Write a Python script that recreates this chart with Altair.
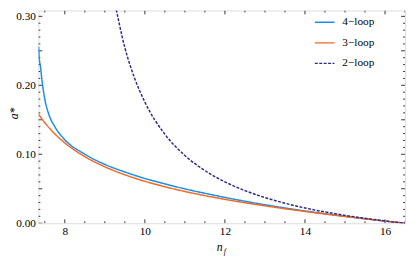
import altair as alt
import pandas as pd

series_names = ["4\u2212loop", "3\u2212loop", "2\u2212loop"]

nf_4 = [7.345, 7.36, 7.39, 7.43, 7.5, 7.6, 7.75, 8.0, 8.5, 9.0, 9.5, 10.0, 10.5, 11.0, 11.5, 12.0, 13.0, 14.0, 15.0, 16.0, 16.5]
a_4 = [0.256, 0.240, 0.228, 0.207, 0.180, 0.158, 0.140, 0.121, 0.100, 0.0853, 0.0743, 0.0649, 0.0570, 0.0498, 0.0434, 0.0374, 0.0268, 0.0178, 0.0100, 0.00317, 0.0]

nf_3 = [7.345, 7.5, 7.75, 8.0, 8.5, 9.0, 9.5, 10.0, 10.5, 11.0, 11.5, 12.0, 13.0, 14.0, 15.0, 16.0, 16.5]
a_3 = [0.158, 0.1458, 0.1296, 0.1165, 0.0966, 0.0818, 0.0702, 0.0608, 0.0529, 0.0460, 0.0400, 0.0346, 0.0252, 0.0171, 0.0098, 0.00316, 0.0]

nf_2 = [9.2, 9.5, 9.75, 10.0, 10.5, 11.0, 11.5, 12.0, 12.5, 13.0, 13.5, 14.0, 14.5, 15.0, 15.5, 16.0, 16.5]
a_2 = [0.335, 0.2546, 0.2093, 0.1757, 0.129, 0.0982, 0.0763, 0.060, 0.0473, 0.0372, 0.029, 0.0221, 0.0163, 0.01136, 0.00707, 0.00331, 0.0]

x_major = [8, 10, 12, 14, 16]
x_minor = [7.5, 8.5, 9, 9.5, 10.5, 11, 11.5, 12.5, 13, 13.5, 14.5, 15, 15.5, 16.5]
y_major = [0.0, 0.05, 0.10, 0.15, 0.20, 0.25, 0.30]
y_minor = [0.01, 0.02, 0.03, 0.04, 0.06, 0.07, 0.08, 0.09, 0.11, 0.12, 0.13, 0.14,
           0.16, 0.17, 0.18, 0.19, 0.21, 0.22, 0.23, 0.24, 0.26, 0.27, 0.28, 0.29]

colors = ["#1a8cf0", "#f5681e", "#2c2a8a"]

W, H = 374, 217
FONT = "Liberation Serif"

rows = []
for name, xs, ys in [(series_names[0], nf_4, a_4), (series_names[1], nf_3, a_3), (series_names[2], nf_2, a_2)]:
    for x, y in zip(xs, ys):
        rows.append({"nf": x, "a": y, "series": name})
df = pd.DataFrame(rows)

xscale = alt.Scale(domain=[7.34, 16.5], nice=False, zero=False)
yscale = alt.Scale(domain=[0, 0.3085], nice=False, zero=False)

lines = alt.Chart(df).mark_line(clip=True, strokeWidth=1.5, interpolate="monotone").encode(
    x=alt.X("nf:Q", scale=xscale,
            axis=alt.Axis(values=x_major, title=None, ticks=False, domain=False, grid=False,
                          labelFont=FONT, labelFontSize=11.5, labelColor="black", labelPadding=3)),
    y=alt.Y("a:Q", scale=yscale,
            axis=alt.Axis(values=y_major, format=".2f", title=None, ticks=False, domain=False, grid=False,
                          labelFont=FONT, labelFontSize=11.5, labelColor="black", labelPadding=3)),
    color=alt.Color("series:N", scale=alt.Scale(domain=series_names, range=colors),
                    legend=alt.Legend(title=None, orient="none", legendX=281, legendY=1,
                                      symbolType="stroke", symbolSize=400, symbolStrokeWidth=1.3,
                                      labelFont=FONT, labelFontSize=11.5, labelColor="black",
                                      rowPadding=4, labelOffset=7)),
    strokeDash=alt.StrokeDash("series:N", scale=alt.Scale(domain=series_names, range=[[1, 0], [1, 0], [3, 1.5]]),
                              legend=None),
    order=alt.Order("nf:Q"),
)

dxM = pd.DataFrame({"v": x_major})
dxm = pd.DataFrame({"v": x_minor})
dyM = pd.DataFrame({"v": y_major})
dym = pd.DataFrame({"v": y_minor})

def xticks(d, ln):
    b = alt.Chart(d).mark_rule(color="black", strokeWidth=0.8, clip=True).encode(
        x=alt.X("v:Q", scale=xscale), y=alt.value(H), y2=alt.value(H - ln))
    t = alt.Chart(d).mark_rule(color="black", strokeWidth=0.8, clip=True).encode(
        x=alt.X("v:Q", scale=xscale), y=alt.value(0), y2=alt.value(ln))
    return b + t

def yticks(d, ln):
    l = alt.Chart(d).mark_rule(color="black", strokeWidth=0.8, clip=True).encode(
        y=alt.Y("v:Q", scale=yscale), x=alt.value(0), x2=alt.value(ln))
    r = alt.Chart(d).mark_rule(color="black", strokeWidth=0.8, clip=True).encode(
        y=alt.Y("v:Q", scale=yscale), x=alt.value(W), x2=alt.value(W - ln))
    return l + r

xlab_n = alt.Chart(pd.DataFrame({"t": ["n"]})).mark_text(
    font=FONT, fontSize=12, fontStyle="italic", align="right", baseline="alphabetic", color="black"
).encode(text="t:N", x=alt.value(188), y=alt.value(245))
xlab_f = alt.Chart(pd.DataFrame({"t": ["f"]})).mark_text(
    font=FONT, fontSize=8, fontStyle="italic", align="left", baseline="alphabetic", color="black"
).encode(text="t:N", x=alt.value(189), y=alt.value(248))
ylab = alt.Chart(pd.DataFrame({"t": ["a*"]})).mark_text(
    font=FONT, fontSize=12, fontStyle="italic", align="center", baseline="middle", color="black", angle=270
).encode(text="t:N", x=alt.value(-25), y=alt.value(105))

chart = alt.layer(
    xticks(dxM, 4), xticks(dxm, 2), yticks(dyM, 4), yticks(dym, 2),
    lines, xlab_n, xlab_f, ylab
).properties(
    width=W, height=H,
    autosize=alt.AutoSizeParams(type="none"),
    padding={"left": 31, "top": 0, "right": 2, "bottom": 36},
).configure_view(stroke="black", strokeWidth=1.2).configure(background="white", font=FONT)

chart.save("out.html", embed_options={"renderer": "svg", "actions": False})
